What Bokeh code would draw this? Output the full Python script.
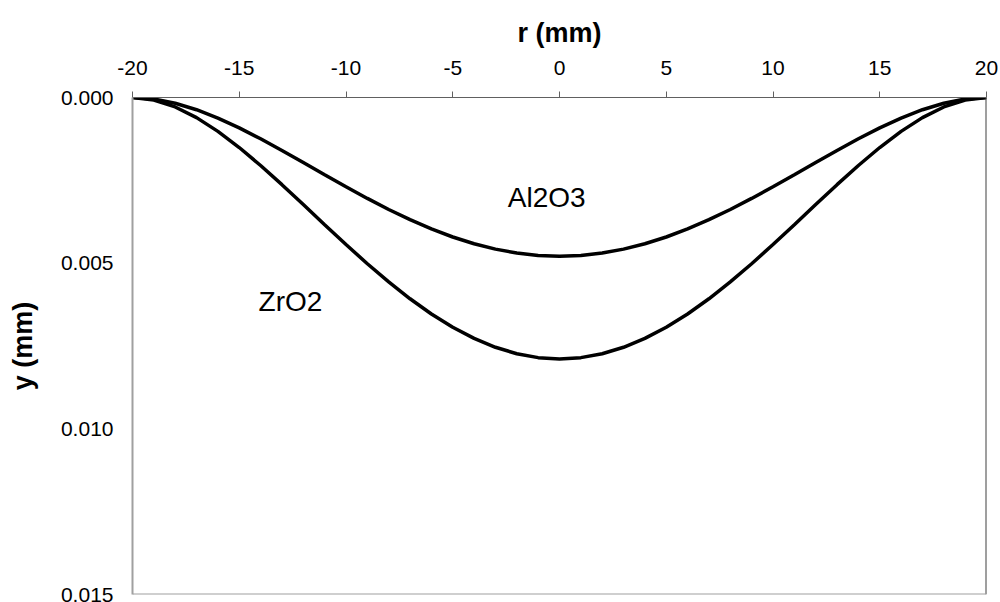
from bokeh.plotting import figure
from bokeh.models import Range1d, FixedTicker, Span
from bokeh.core.properties import value
from bokeh.embed import file_html
from bokeh.resources import INLINE

# radial position (mm)
r = list(range(-20, 21))

# deflection y (mm)
al2o3_half = [0.0, 0.000046, 0.000173, 0.000369, 0.000621, 0.000917, 0.001246,
              0.001598, 0.001962, 0.002330, 0.002694, 0.003046, 0.003380,
              0.003688, 0.003967, 0.004210, 0.004415, 0.004577, 0.004695,
              0.004766]
al2o3_y = al2o3_half + [0.00479] + al2o3_half[::-1]

zro2_half = [0.0, 0.000075, 0.000285, 0.000608, 0.001023, 0.001510, 0.002052,
             0.002631, 0.003232, 0.003839, 0.004438, 0.005018, 0.005567,
             0.006075, 0.006534, 0.006935, 0.007271, 0.007539, 0.007733,
             0.007851]
zro2_y = zro2_half + [0.00789] + zro2_half[::-1]

x_ticks = [-20, -15, -10, -5, 0, 5, 10, 15, 20]
x_tick_labels = ["-20", "-15", "-10", "-5", "0", "5", "10", "15", "20"]
y_ticks = [0.0, 0.005, 0.010, 0.015]
y_tick_labels = ["0.000", "0.005", "0.010", "0.015"]

label_text = ["Al2O3", "ZrO2"]
label_x = [-0.6, -12.6]
label_y = [0.00302, 0.00616]

FONT = "Liberation Sans"

p = figure(width=1000, height=602, output_backend="svg", toolbar_location=None,
           x_axis_location="above",
           x_range=Range1d(-20, 20), y_range=Range1d(0.015, 0.0),
           min_border_left=132, min_border_right=14,
           min_border_top=97, min_border_bottom=8)
p.outline_line_color = None
p.xgrid.visible = False
p.ygrid.visible = False
p.background_fill_color = "white"

xa = p.xaxis[0]
xa.ticker = FixedTicker(ticks=x_ticks)
xa.major_label_overrides = {t: s for t, s in zip(x_ticks, x_tick_labels)}
xa.axis_label = "r (mm)"
xa.axis_label_text_font = FONT
xa.axis_label_text_font_style = "bold"
xa.axis_label_text_font_size = "27px"
xa.axis_label_text_color = "black"
xa.axis_label_standoff = 10
xa.major_label_text_font = FONT
xa.major_label_text_font_size = "21px"
xa.major_label_text_color = "black"
xa.major_label_standoff = 17
xa.major_tick_out = 6
xa.major_tick_in = 0
xa.minor_tick_line_color = None
xa.axis_line_color = "#606060"
xa.major_tick_line_color = "#606060"

ya = p.yaxis[0]
ya.ticker = FixedTicker(ticks=y_ticks)
ya.major_label_overrides = {t: s for t, s in zip(y_ticks, y_tick_labels)}
ya.axis_label = "y (mm)"
ya.axis_label_text_font = FONT
ya.axis_label_text_font_style = "bold"
ya.axis_label_text_font_size = "27px"
ya.axis_label_text_color = "black"
ya.axis_label_standoff = 20
ya.major_label_text_font = FONT
ya.major_label_text_font_size = "21px"
ya.major_label_text_color = "black"
ya.major_label_standoff = 19
ya.major_tick_out = 0
ya.major_tick_in = 0
ya.major_tick_line_color = None
ya.minor_tick_line_color = None
ya.axis_line_color = "#a0a0a0"
ya.axis_line_width = 2

p.add_layout(Span(location=20, dimension="height", line_color="#404040", line_width=2))
p.add_layout(Span(location=0.015, dimension="width", line_color="#a0a0a0", line_width=2))

p.line(r, al2o3_y, line_color="black", line_width=3.5)
p.line(r, zro2_y, line_color="black", line_width=3.5)

p.text(x=label_x, y=label_y, text=label_text, text_font=value(FONT),
       text_font_size="28px", text_align="center", text_baseline="middle",
       text_color="black")

open("out.html", "w").write(file_html(p, INLINE))
